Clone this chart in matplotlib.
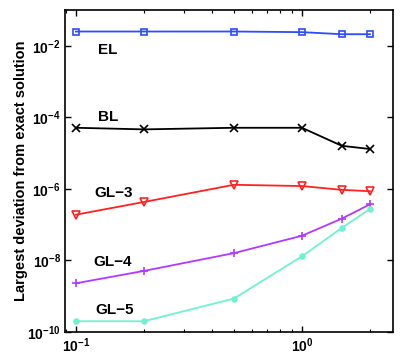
import numpy as np
import matplotlib.pyplot as plt
from matplotlib import rcParams
from matplotlib.ticker import LogLocator, NullFormatter

rcParams['font.family'] = ['Liberation Sans', 'DejaVu Sans']
rcParams['font.weight'] = 'bold'
rcParams['mathtext.default'] = 'bf'

# step sizes and errors
h = [0.1, 0.2, 0.5, 1.0, 1.5, 2.0]
err_el = [2.5e-2, 2.5e-2, 2.5e-2, 2.4e-2, 2.1e-2, 2.1e-2]
err_bl = [5.1e-5, 4.6e-5, 5.1e-5, 5.1e-5, 1.6e-5, 1.3e-5]
err_gl3 = [1.9e-7, 4.3e-7, 1.3e-6, 1.2e-6, 9.4e-7, 8.6e-7]
err_gl4 = [2.3e-9, 5.1e-9, 1.6e-8, 4.9e-8, 1.47e-7, 3.7e-7]
err_gl5 = [2.0e-10, 2.0e-10, 8.6e-10, 1.3e-8, 8.1e-8, 2.75e-7]

labels = ['EL', 'BL', 'GL\u22123', 'GL\u22124', 'GL\u22125']
series = [err_el, err_bl, err_gl3, err_gl4, err_gl5]
colors = ['#2b4cff', 'black', '#ff2020', '#b437ff', '#6ff2d2']
markers = ['s', 'x', 'v', '+', 'o']
label_pos = [(0.131, 0.876), (0.131, 0.668), (0.148, 0.432), (0.146, 0.217), (0.150, 0.068)]

fig = plt.figure(figsize=(4.19, 3.56), dpi=100)
ax = fig.add_axes([0.155, 0.0674, 0.783, 0.9046])

for y, c, m in zip(series, colors, markers):
    kw = dict(markersize=4, markeredgewidth=1.2)
    if m in ('s', 'v'):
        kw['markerfacecolor'] = 'none'
        kw['markersize'] = 4 if m == 's' else 6
    if m == 'o':
        kw['markersize'] = 3.5
    if m in ('x', '+'):
        kw['markersize'] = 6
    ax.plot(h, y, color=c, marker=m, linewidth=1.3, **kw)

for lab, (tx, ty) in zip(labels, label_pos):
    ax.text(tx, ty, lab, transform=ax.transAxes, ha='center', va='center',
            fontsize=11, fontweight='bold')

ax.set_xscale('log')
ax.set_yscale('log')
ax.set_xlim(0.0894, 2.53)
ax.set_ylim(1e-10, 1e-1)
ax.set_yticks([1e-10, 1e-8, 1e-6, 1e-4, 1e-2])
ax.yaxis.set_minor_locator(LogLocator(base=10, subs=[]))
ax.yaxis.set_minor_formatter(NullFormatter())
ax.set_xticks([0.1, 1.0])
ax.tick_params(which='both', direction='in', top=True, right=True, labelsize=10)
ax.tick_params(which='major', length=4, width=1, pad=3)
ax.tick_params(which='minor', length=2, width=0.8)
for s in ax.spines.values():
    s.set_linewidth(1.2)

ax.set_ylabel('Largest deviation from exact solution', fontsize=10.5, fontweight='bold')
ax.yaxis.set_label_coords(-0.113, 0.5)

fig.savefig('out.png', dpi=100)
